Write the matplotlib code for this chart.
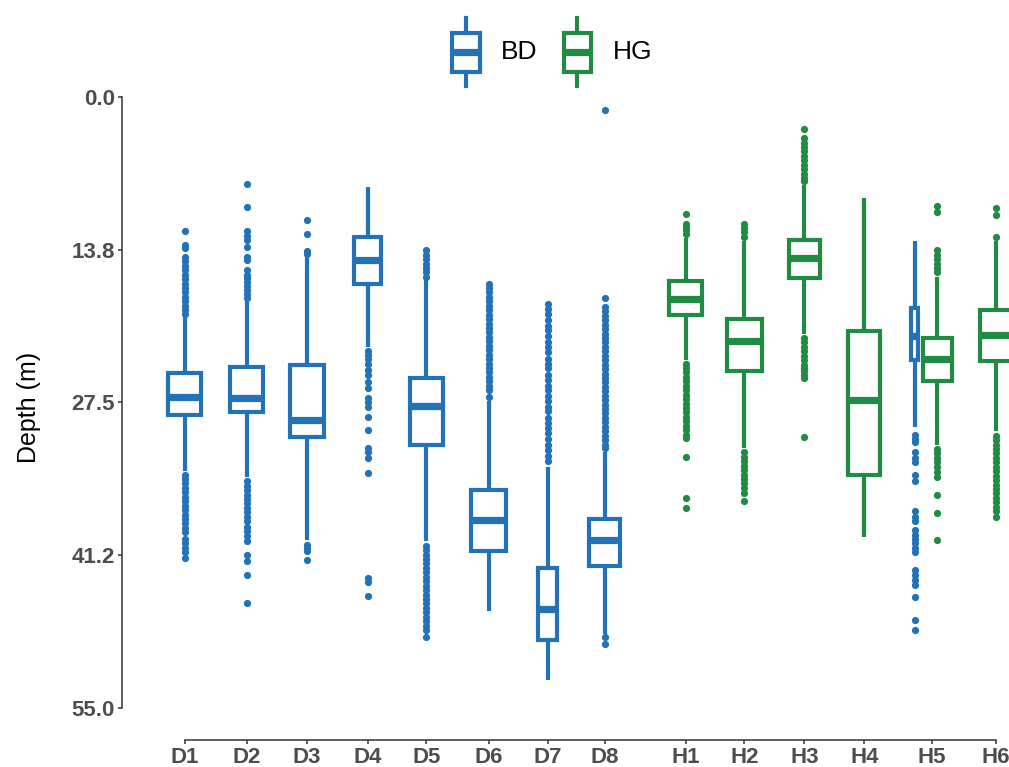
import matplotlib
matplotlib.use('Agg')
import matplotlib.pyplot as plt
from matplotlib.patches import Rectangle, Patch
from matplotlib.lines import Line2D
from matplotlib.legend_handler import HandlerBase

# ---- data (depth in m) ----
sites = ['D1', 'D2', 'D3', 'D4', 'D5', 'D6', 'D7', 'D8',
         'H1', 'H2', 'H3', 'H4', 'H5', 'H6']

box_site = ['D1', 'D2', 'D3', 'D4', 'D5', 'D6', 'D7', 'D8',
            'H1', 'H2', 'H3', 'H4', 'H5', 'H5', 'H6']
box_group = ['BD'] * 8 + ['HG'] * 4 + ['BD', 'HG', 'HG']

whis_top = [19.8, 18.4, 14.3, 8.1, 16.5, 27.4, 33.3, 32.0,
            12.7, 13.0, 7.9, 9.1, 13.0, 16.2, 13.0]
q1 = [24.85, 24.3, 24.1, 12.6, 25.3, 35.4, 42.4, 38.0,
      16.6, 20.0, 12.9, 21.1, 19.0, 21.7, 19.2]
med = [26.97, 27.1, 29.1, 14.7, 27.8, 38.1, 46.1, 39.9,
       18.2, 22.0, 14.5, 27.3, 21.5, 23.6, 21.4]
q3 = [28.6, 28.4, 30.6, 16.8, 31.3, 40.9, 48.9, 42.2,
      19.6, 24.7, 16.3, 34.0, 23.7, 25.6, 23.8]
whis_bot = [33.7, 34.2, 39.9, 22.5, 40.0, 46.3, 52.5, 48.4,
            23.7, 31.6, 21.3, 39.6, 29.7, 31.3, 30.1]

outliers = [
    # D1
    [12.1, 13.3, 13.6, 14.4, 14.8, 15.2, 15.6, 16.0, 16.4, 16.8, 17.2, 17.6, 18.0,
     18.4, 18.8, 19.2, 19.5, 34.0, 34.4, 34.8, 35.2, 35.6, 36.0, 36.4, 36.8, 37.2,
     37.6, 38.0, 38.4, 38.8, 39.2, 39.8, 40.2, 40.6, 41.0, 41.5],
    # D2
    [7.8, 9.9, 12.1, 12.5, 12.9, 13.5, 14.4, 14.7, 15.6, 16.0, 16.3, 16.7, 17.0,
     17.4, 17.7, 18.1, 34.6, 35.0, 35.4, 35.8, 36.2, 36.6, 37.0, 37.4, 37.8, 38.2,
     38.7, 39.1, 39.5, 40.0, 41.2, 41.8, 43.0, 45.6],
    # D3
    [11.1, 12.3, 13.9, 14.1, 40.3, 40.6, 40.9, 41.7],
    # D4
    [22.9, 23.2, 23.6, 24.0, 24.6, 25.0, 25.7, 26.2, 27.1, 27.5, 27.9, 28.8, 30.0,
     31.6, 32.0, 32.5, 33.9, 43.3, 43.7, 44.9],
    # D5
    [13.8, 14.2, 14.6, 15.0, 15.4, 15.8, 16.2, 40.4, 40.8, 41.2, 41.6, 42.0, 42.4,
     42.8, 43.2, 43.6, 44.0, 44.4, 44.8, 45.2, 45.6, 46.0, 46.4, 46.8, 47.2, 47.6,
     48.0, 48.6],
    # D6
    [16.8, 17.2, 17.6, 18.0, 18.4, 18.8, 19.2, 19.6, 20.0, 20.4, 20.8, 21.2, 21.6,
     22.0, 22.4, 22.8, 23.2, 23.6, 24.0, 24.4, 24.8, 25.2, 25.6, 26.0, 26.4, 27.0],
    # D7
    [18.6, 19.1, 19.5, 20.1, 20.6, 21.0, 21.5, 22.1, 22.5, 23.0, 23.6, 24.0, 24.4,
     25.0, 25.5, 26.0, 26.4, 26.9, 27.4, 27.9, 28.3, 28.9, 29.4, 29.8, 30.3, 30.8,
     31.3, 31.8, 32.3, 32.8],
    # D8
    [1.2, 18.1, 18.9, 19.3, 19.7, 20.1, 20.5, 20.9, 21.3, 21.7, 22.1, 22.5, 22.9,
     23.3, 23.7, 24.1, 24.5, 24.9, 25.3, 25.7, 26.1, 26.5, 26.9, 27.3, 27.7, 28.1,
     28.5, 28.9, 29.3, 29.7, 30.1, 30.5, 30.9, 31.3, 31.6, 48.6, 49.3],
    # H1
    [10.5, 11.4, 11.7, 12.0, 12.3, 24.0, 24.4, 24.8, 25.2, 25.6, 26.0, 26.4, 26.8,
     27.2, 27.6, 28.0, 28.4, 28.8, 29.2, 29.6, 30.0, 30.4, 30.7, 32.4, 36.1, 37.0],
    # H2
    [11.4, 11.8, 12.2, 12.6, 32.0, 32.4, 32.8, 33.2, 33.6, 34.0, 34.4, 34.8, 35.2,
     35.7, 36.4],
    # H3
    [2.9, 3.7, 4.1, 4.5, 4.9, 5.3, 5.7, 6.1, 6.5, 6.9, 7.3, 7.6, 21.7, 22.1, 22.5,
     22.9, 23.3, 23.7, 24.1, 24.4, 24.7, 25.0, 25.3, 30.6],
    # H4
    [],
    # H5 (BD)
    [30.4, 30.8, 31.1, 32.0, 32.5, 32.9, 34.0, 34.6, 37.3, 37.8, 38.2, 39.0, 39.4,
     39.8, 40.2, 40.6, 41.0, 42.6, 43.0, 43.5, 43.9, 45.0, 47.1, 48.0],
    # H5 (HG)
    [9.8, 10.4, 13.8, 14.2, 14.6, 15.0, 15.4, 15.8, 31.7, 32.1, 32.5, 32.9, 33.3,
     33.8, 34.2, 35.8, 37.5, 39.9],
    # H6
    [10.0, 10.6, 12.6, 30.5, 30.9, 31.3, 31.7, 32.1, 32.5, 32.9, 33.3, 33.7, 34.1,
     34.5, 34.9, 35.3, 35.7, 36.1, 36.5, 36.9, 37.3, 37.8],
]

# ---- layout ----
site_pos = [1.0, 2.04, 3.04, 4.05, 5.03, 6.07, 7.05, 8.0,
            9.35, 10.33, 11.33, 12.33, 13.45, 14.52]
h5_offset = {'BD': -0.28, 'HG': 0.10}
box_width = [0.55, 0.55, 0.57, 0.46, 0.55, 0.58, 0.33, 0.53,
             0.55, 0.58, 0.52, 0.53, 0.11, 0.48, 0.53]
colors = {'BD': '#2372B8', 'HG': '#228B43'}
LW = 3.0
MED_LW = 5.2
axis_col = '#333333'
tick_col = '#4D4D4D'

plt.rcParams['font.family'] = ['Liberation Sans', 'DejaVu Sans']

fig = plt.figure(figsize=(10.09, 7.67), dpi=100)
ax = fig.add_axes([122 / 1009, 27 / 767, 1 - 122 / 1009, (740 - 75) / 767])

for i, site in enumerate(box_site):
    grp = box_group[i]
    col = colors[grp]
    pos = site_pos[sites.index(site)]
    if site == 'H5':
        pos += h5_offset[grp]
    stats = [dict(whislo=whis_top[i], q1=q1[i], med=med[i], q3=q3[i],
                  whishi=whis_bot[i], fliers=outliers[i])]
    ax.bxp(stats, positions=[pos], widths=box_width[i], patch_artist=True,
           showcaps=False, manage_ticks=False,
           boxprops=dict(facecolor='white', edgecolor=col, linewidth=LW),
           whiskerprops=dict(color=col, linewidth=LW, solid_capstyle='butt'),
           medianprops=dict(color=col, linewidth=MED_LW, solid_capstyle='butt'),
           flierprops=dict(marker='o', markerfacecolor=col, markeredgecolor=col,
                           markeredgewidth=0, markersize=5.2, linestyle='none'))

ax.set_xlim((122 - 184.5) / 60 + 1, (1009 - 184.5) / 60 + 1)
ax.set_ylim(57.9, -1.98)

ax.set_yticks([0.0, 13.8, 27.5, 41.2, 55.0])
ax.set_yticklabels(['0.0', '13.8', '27.5', '41.2', '55.0'])
ax.set_xticks(site_pos)
ax.set_xticklabels(sites)

for s in ['top', 'right']:
    ax.spines[s].set_visible(False)
ax.spines['left'].set_bounds(0, 55)
ax.spines['bottom'].set_bounds(site_pos[0], site_pos[-1])
for s in ['left', 'bottom']:
    ax.spines[s].set_color(axis_col)
    ax.spines[s].set_linewidth(1.1)
ax.tick_params(axis='both', direction='out', length=3, width=1.1, color=axis_col,
               labelcolor=tick_col, labelsize=16, pad=2)
for lab in ax.get_xticklabels() + ax.get_yticklabels():
    lab.set_fontweight('bold')

ax.set_ylabel('Depth (m)', fontsize=18, color='black', labelpad=22)


class HandlerBox(HandlerBase):
    def create_artists(self, legend, orig_handle, xdescent, ydescent,
                       width, height, fontsize, trans):
        col = orig_handle.get_edgecolor()
        x0, y0 = -xdescent, -ydescent
        cx = x0 + width / 2
        b0, b1 = y0 + 0.2 * height, y0 + 0.78 * height
        box = Rectangle((x0, b0), width, b1 - b0, facecolor='white',
                        edgecolor=col, linewidth=LW, transform=trans)
        w1 = Line2D([cx, cx], [y0, b0], color=col, linewidth=LW, transform=trans)
        w2 = Line2D([cx, cx], [b1, y0 + height], color=col, linewidth=LW, transform=trans)
        ym = y0 + 0.5 * height
        m = Line2D([x0, x0 + width], [ym, ym], color=col, linewidth=MED_LW,
                   solid_capstyle='butt', transform=trans)
        return [box, w1, w2, m]


handles = [Patch(facecolor='white', edgecolor=colors[g]) for g in ['BD', 'HG']]
fig.legend(handles, ['BD', 'HG'], loc='center', bbox_to_anchor=(552 / 1009, 1 - 52 / 767),
           ncol=2, frameon=False, fontsize=19, handler_map={Patch: HandlerBox()},
           handlelength=1.05, handleheight=3.6, handletextpad=0.8, columnspacing=1.0)

fig.savefig('out.png', dpi=100)
